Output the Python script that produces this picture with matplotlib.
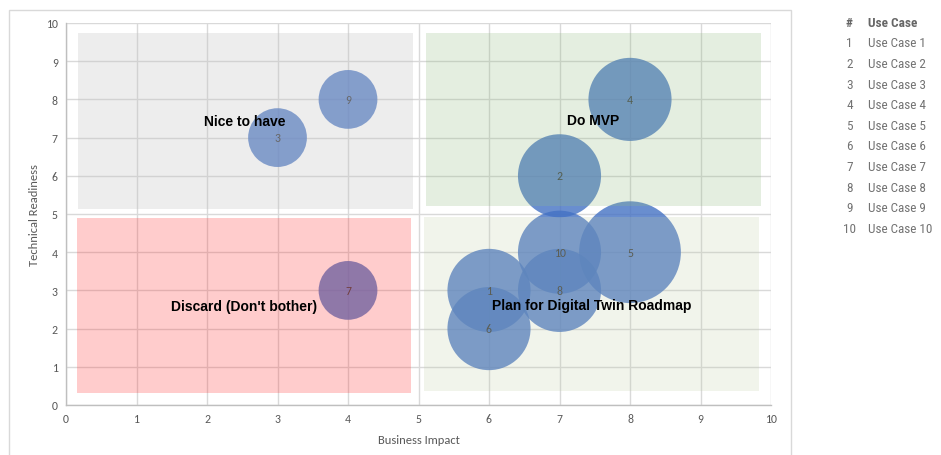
import matplotlib
matplotlib.use("Agg")
import matplotlib.pyplot as plt
from matplotlib.patches import Rectangle

# ---- data ----
use_case_ids = [1, 2, 3, 4, 5, 6, 7, 8, 9, 10]
use_case_names = ["Use Case 1", "Use Case 2", "Use Case 3", "Use Case 4", "Use Case 5",
                  "Use Case 6", "Use Case 7", "Use Case 8", "Use Case 9", "Use Case 10"]
business_impact = [6, 7, 3, 8, 8, 6, 4, 7, 4, 7]
technical_readiness = [3, 6, 7, 8, 4, 2, 3, 3, 8, 4]
bubble_size = [2, 2, 1, 2, 3, 2, 1, 2, 1, 2]

quadrant_labels = ["Nice to have", "Do MVP", "Discard (Don't bother)", "Plan for Digital Twin Roadmap"]
x_ticks = [0, 1, 2, 3, 4, 5, 6, 7, 8, 9, 10]
y_ticks = [0, 1, 2, 3, 4, 5, 6, 7, 8, 9, 10]

# ---- layout / style ----
W, H = 941, 456
fig = plt.figure(figsize=(W / 100, H / 100), dpi=100)
fig.patch.set_facecolor("white")
tick_fam = ["Carlito", "Lato"]

ax_l, ax_r, ax_t, ax_b = 66, 771, 24, 406
ax = fig.add_axes([ax_l / W, 1 - ax_b / H, (ax_r - ax_l) / W, (ax_b - ax_t) / H])
ax.set_xlim(0, 10)
ax.set_ylim(0, 10)
ax.set_xticks(x_ticks)
ax.set_yticks(y_ticks)
ax.set_axisbelow(True)
ax.grid(True, color="#d9d9d9", linewidth=1.0)
for s in ["top", "right"]:
    ax.spines[s].set_visible(False)
for s in ["left", "bottom"]:
    ax.spines[s].set_color("#bfbfbf")
    ax.spines[s].set_linewidth(1.0)
ax.tick_params(length=0, colors="#595959", labelsize=8.5, pad=6)
for lab in ax.get_xticklabels() + ax.get_yticklabels():
    lab.set_fontfamily(tick_fam)

ax.set_xlabel("Business Impact", fontfamily=tick_fam, fontsize=9, color="#595959", labelpad=7)
ax.set_ylabel("Technical Readiness", fontfamily=tick_fam, fontsize=9, color="#595959", labelpad=4)

# bubbles
ax.scatter(business_impact, technical_readiness, s=[v * 1790 for v in bubble_size],
           color="#4472c4", alpha=0.8, linewidths=0, zorder=1, clip_on=False)
for i, x, y in zip(use_case_ids, business_impact, technical_readiness):
    ax.text(x, y, str(i), ha="center", va="center", fontsize=8.5, fontfamily=tick_fam,
            color="#404040", zorder=2)

# quadrant overlays (x0, x1, y0, y1, color, alpha)
quads = [
    (0.17, 4.92, 5.14, 9.74, "#c4c4c4", 0.30),
    (5.10, 9.86, 5.21, 9.74, "#94bd84", 0.25),
    (0.16, 4.90, 0.32, 4.90, "#ff3a3a", 0.26),
    (5.08, 9.83, 0.36, 4.92, "#c0cda8", 0.22),
]
for x0, x1, y0, y1, c, a in quads:
    ax.add_patch(Rectangle((x0, y0), x1 - x0, y1 - y0, facecolor=c, alpha=a,
                           edgecolor="none", zorder=3))

label_pos = [(2.54, 7.43), (7.47, 7.46), (2.52, 2.59), (7.45, 2.63)]
for txt, (x, y) in zip(quadrant_labels, label_pos):
    ax.text(x, y, txt, ha="center", va="center", fontsize=10, fontweight="bold",
            fontfamily="Liberation Sans", color="black", zorder=4)

# outer chart frame
fig.add_artist(Rectangle((8.5 / W, -0.05), (790.5 - 8.5) / W, 1.05 - 10.7 / H,
                         transform=fig.transFigure, facecolor="none",
                         edgecolor="#d9d9d9", linewidth=1.0))

# legend table
leg_fam = ["Roboto Condensed", "Liberation Sans"]
num_x, name_x = 849.5, 868.5
row_y0, row_dy = 23.3, 20.6
fs = 9.5
fig.text(num_x / W, 1 - row_y0 / H, "#", ha="center", va="center", fontsize=fs,
         fontweight="bold", family=leg_fam, color="#666666")
fig.text(name_x / W, 1 - row_y0 / H, "Use Case", ha="left", va="center", fontsize=fs,
         fontweight="bold", family=leg_fam, color="#666666")
for k, (i, name) in enumerate(zip(use_case_ids, use_case_names)):
    y = row_y0 + (k + 1) * row_dy
    fig.text(num_x / W, 1 - y / H, str(i), ha="center", va="center", fontsize=fs,
             family=leg_fam, color="#737373")
    fig.text(name_x / W, 1 - y / H, name, ha="left", va="center", fontsize=fs,
             family=leg_fam, color="#737373")

fig.savefig("out.png", dpi=100)
